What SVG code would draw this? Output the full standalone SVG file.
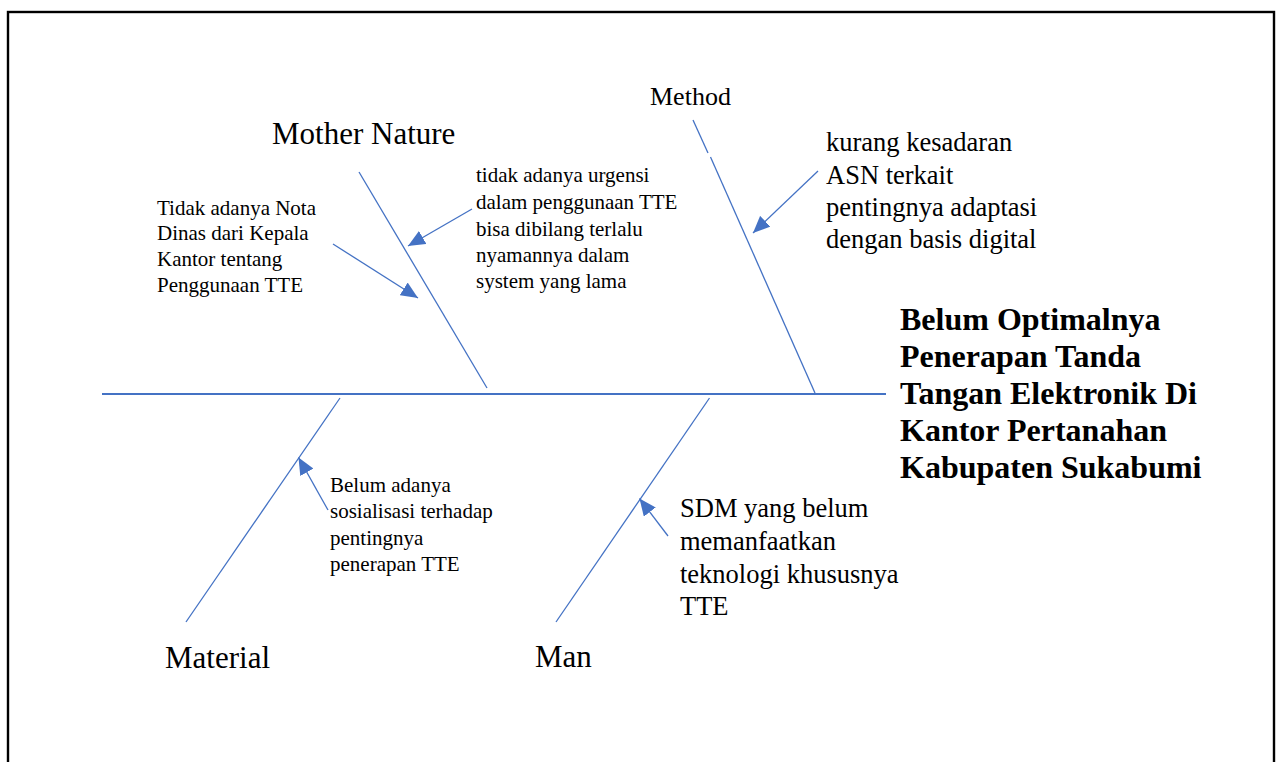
<svg xmlns="http://www.w3.org/2000/svg" width="1280" height="762" viewBox="0 0 1280 762">
<style>
.t{font-family:"Liberation Serif","Times New Roman",serif;fill:#000}
.s{font-size:21px}
.m{font-size:26.5px}
.l{font-size:31px}
.b{font-size:32px;font-weight:bold}
.bone{stroke:#4472C4;stroke-width:1.3;fill:none}
.arr{stroke:#4472C4;stroke-width:1.3;fill:none;marker-end:url(#ah)}
</style>
<defs>
<marker id="ah" viewBox="0 0 17 15" refX="17" refY="7.5" markerWidth="17" markerHeight="15" markerUnits="userSpaceOnUse" orient="auto">
<path d="M0,0 L17,7.5 L0,15 z" fill="#4472C4"/>
</marker>
</defs>
<rect x="0" y="0" width="1280" height="762" fill="#fff"/>
<rect x="8" y="12" width="1266" height="800" fill="none" stroke="#000" stroke-width="2.4"/>

<g id="connectors">
<line x1="102" y1="394" x2="886" y2="394" stroke="#4472C4" stroke-width="1.8"/>
<line class="bone" x1="359" y1="172" x2="487" y2="388"/>
<line class="bone" x1="693" y1="120" x2="708" y2="153"/>
<line class="bone" x1="710.5" y1="157" x2="815" y2="393"/>
<line class="bone" x1="340" y1="398" x2="186" y2="622"/>
<line class="bone" x1="709.5" y1="398" x2="556" y2="622"/>
<line class="arr" x1="472" y1="209" x2="408" y2="246"/>
<line class="arr" x1="333" y1="244" x2="418" y2="298"/>
<line class="arr" x1="818" y1="171" x2="753" y2="233"/>
<line class="arr" x1="328" y1="510" x2="298.5" y2="457.5"/>
<line class="arr" x1="668" y1="536" x2="639.5" y2="498.5"/>
</g>

<g id="method"><text class="t" x="650" y="105" font-size="26px">Method</text></g>
<g id="mother-nature"><text class="t l" x="272" y="144">Mother Nature</text></g>
<g id="material"><text class="t l" x="165" y="668">Material</text></g>
<g id="man"><text class="t l" x="535" y="667">Man</text></g>

<g id="cause-nota">
<text class="t s" x="157" y="215">Tidak adanya Nota</text>
<text class="t s" x="157" y="240">Dinas dari Kepala</text>
<text class="t s" x="157" y="266">Kantor tentang</text>
<text class="t s" x="157" y="292">Penggunaan TTE</text>
</g>
<g id="cause-urgensi">
<text class="t s" x="476" y="182">tidak adanya urgensi</text>
<text class="t s" x="476" y="209">dalam penggunaan TTE</text>
<text class="t s" x="476" y="236">bisa dibilang terlalu</text>
<text class="t s" x="476" y="262">nyamannya dalam</text>
<text class="t s" x="476" y="288">system yang lama</text>
</g>
<g id="cause-kesadaran">
<text class="t m" x="826" y="151">kurang kesadaran</text>
<text class="t m" x="826" y="184">ASN terkait</text>
<text class="t m" x="826" y="216">pentingnya adaptasi</text>
<text class="t m" x="826" y="248">dengan basis digital</text>
</g>
<g id="cause-sosialisasi">
<text class="t s" x="330" y="492">Belum adanya</text>
<text class="t s" x="330" y="518">sosialisasi terhadap</text>
<text class="t s" x="330" y="545">pentingnya</text>
<text class="t s" x="330" y="571">penerapan TTE</text>
</g>
<g id="cause-sdm">
<text class="t m" x="680" y="517">SDM yang belum</text>
<text class="t m" x="680" y="550">memanfaatkan</text>
<text class="t m" x="680" y="583">teknologi khususnya</text>
<text class="t m" x="680" y="615">TTE</text>
</g>
<g id="effect">
<text class="t b" x="900" y="330">Belum Optimalnya</text>
<text class="t b" x="900" y="367">Penerapan Tanda</text>
<text class="t b" x="900" y="404">Tangan Elektronik Di</text>
<text class="t b" x="900" y="441">Kantor Pertanahan</text>
<text class="t b" x="900" y="478">Kabupaten Sukabumi</text>
</g>
</svg>
